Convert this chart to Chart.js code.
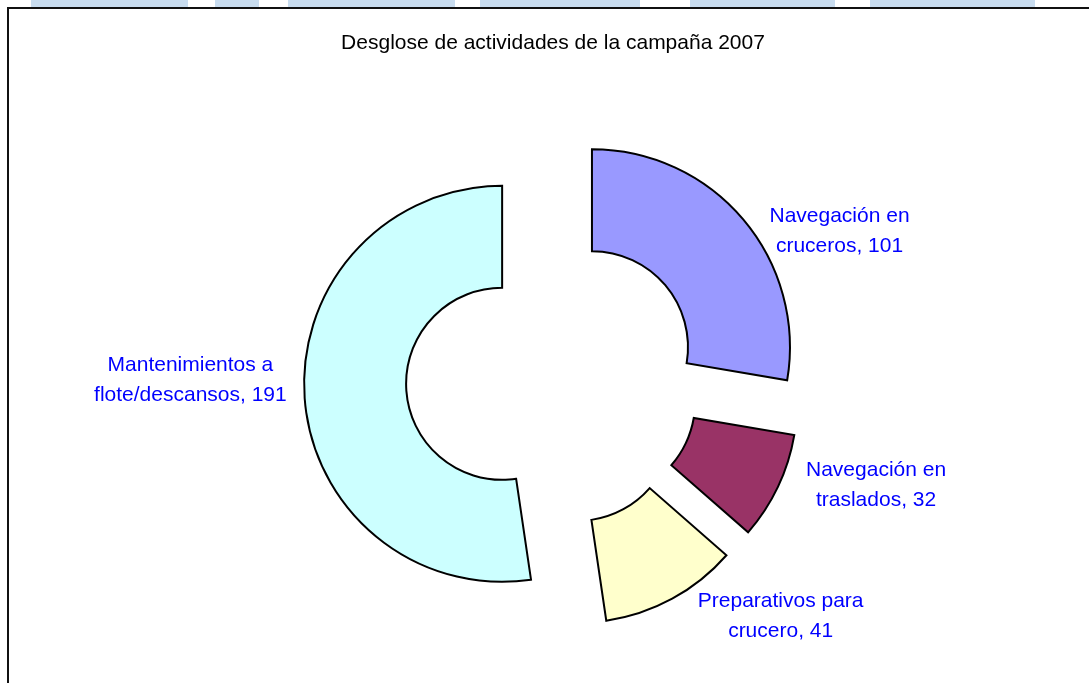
<!DOCTYPE html>
<html lang="es">
<head>
<meta charset="utf-8">
<title>Desglose de actividades de la campaña 2007</title>
<script src="https://cdn.jsdelivr.net/npm/chart.js@4/dist/chart.umd.min.js"></script>
<style>
    html, body { margin: 0; padding: 0; background: #fff; }
    body { width: 1089px; height: 683px; overflow: hidden; position: relative; }
    .strip { position: absolute; top: 0; height: 7px; background: #c8dcef; }
    .frame {
        position: absolute; left: 7px; top: 7px;
        width: 1200px; height: 800px;
        border: 2px solid #111; background: #fff;
    }
    #chartWrap { position: absolute; left: 0; top: 0; width: 1089px; height: 760px; }
</style>
</head>
<body>
<div class="strip" style="left:31px;width:157px"></div>
<div class="strip" style="left:215px;width:44px"></div>
<div class="strip" style="left:288px;width:167px"></div>
<div class="strip" style="left:480px;width:160px"></div>
<div class="strip" style="left:690px;width:145px"></div>
<div class="strip" style="left:870px;width:165px"></div>
<div class="frame"></div>
<div id="chartWrap"><canvas id="donutChart"></canvas></div>

<script>
// ========== 数据 ==========
const categories = [
    'Navegación en cruceros',
    'Navegación en traslados',
    'Preparativos para crucero',
    'Mantenimientos a flote/descansos'
];
const values = [101, 32, 41, 191];
const sliceColors = ['#9999ff', '#993366', '#ffffcc', '#ccffff'];

// 样式
const explodeDistance = 51;
const labelShift = [[11, 25], [10, -10], [16, 0], [2, -20]];
const labelFont = '21px "Liberation Sans", Arial, sans-serif';

function wrapText(ctx, text, maxWidth) {
    const words = text.split(' ');
    const lines = [];
    let line = '';
    words.forEach(w => {
        const test = line ? line + ' ' + w : w;
        if (line && ctx.measureText(test).width > maxWidth) {
            lines.push(line);
            line = w;
        } else {
            line = test;
        }
    });
    if (line) lines.push(line);
    return lines;
}

// 分离扇区
const explodePlugin = {
    id: 'explode',
    afterDatasetsUpdate(chart) {
        chart.getDatasetMeta(0).data.forEach(arc => {
            const mid = (arc.startAngle + arc.endAngle) / 2;
            arc.x += Math.cos(mid) * explodeDistance;
            arc.y += Math.sin(mid) * explodeDistance;
        });
    }
};

// 数据标签
const labelPlugin = {
    id: 'sliceLabels',
    afterDatasetsDraw(chart) {
        const ctx = chart.ctx;
        const meta = chart.getDatasetMeta(0);
        ctx.save();
        ctx.font = labelFont;
        ctx.fillStyle = '#0000ff';
        ctx.textAlign = 'center';
        ctx.textBaseline = 'middle';
        meta.data.forEach((arc, i) => {
            const lines = wrapText(ctx, categories[i] + ', ' + values[i], 200);
            const mid = (arc.startAngle + arc.endAngle) / 2;
            const r = arc.outerRadius + 20;
            const ax = arc.x + Math.cos(mid) * r;
            const ay = arc.y + Math.sin(mid) * r;
            const w = Math.max(...lines.map(l => ctx.measureText(l).width));
            const side = Math.cos(mid) >= 0 ? 1 : -1;
            const cx = ax + side * w / 2 + labelShift[i][0];
            const cy = ay + labelShift[i][1];
            lines.forEach((line, k) => {
                ctx.fillText(line, cx, cy + (k - (lines.length - 1) / 2) * 30);
            });
        });
        ctx.restore();
    }
};

new Chart(document.getElementById('donutChart'), {
    type: 'doughnut',
    data: {
        labels: categories,
        datasets: [{
            data: values,
            backgroundColor: sliceColors,
            borderColor: '#000',
            borderWidth: 2,
            borderJoinStyle: 'miter'
        }]
    },
    options: {
        responsive: true,
        maintainAspectRatio: false,
        animation: false,
        events: [],
        radius: 198,
        cutout: '48.5%',
        layout: { padding: { left: 117, right: 100, top: 0, bottom: 56 } },
        plugins: {
            legend: { display: false },
            tooltip: { enabled: false },
            title: {
                display: true,
                text: 'Desglose de actividades de la campaña 2007',
                color: '#000',
                font: { family: '"Liberation Sans", Arial, sans-serif', size: 21, weight: 'normal' },
                padding: { top: 31, bottom: 0 }
            }
        }
    },
    plugins: [explodePlugin, labelPlugin]
});
</script>
</body>
</html>
